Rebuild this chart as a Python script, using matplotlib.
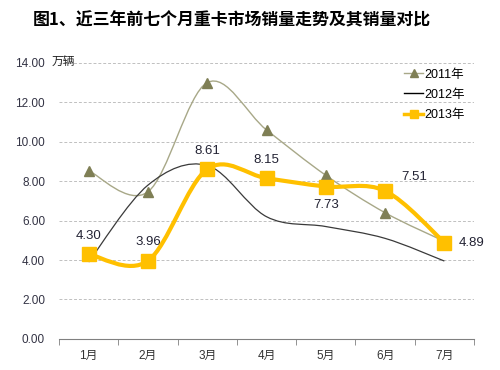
import numpy as np
import matplotlib
matplotlib.use("Agg")
import matplotlib.pyplot as plt
from matplotlib.path import Path
from matplotlib.patches import PathPatch
from matplotlib.lines import Line2D

plt.rcParams['font.family'] = ['Liberation Sans', 'Noto Sans CJK SC']

# données (万辆)
months = ['1月', '2月', '3月', '4月', '5月', '6月', '7月']
sales_2011 = [8.53, 7.46, 13.0, 10.6, 8.3, 6.4, 4.95]
sales_2012 = [3.9, 7.8, 8.8, 6.2, 5.7, 5.1, 3.95]
sales_2013 = [4.30, 3.96, 8.61, 8.15, 7.73, 7.51, 4.89]
labels_2013 = ['4.30', '3.96', '8.61', '8.15', '7.73', '7.51', '4.89']
yticks = [0, 2, 4, 6, 8, 10, 12, 14]

c2011_line = '#a8a888'
c2011_mark = '#7f7f55'
c2012 = '#3a3a3a'
c2013 = '#ffc000'


def smooth_path(xs, ys):
    # courbe lissée façon Excel : Bézier cubique passant par les points
    pts = np.column_stack([xs, ys]).astype(float)
    n = len(pts)
    verts = [pts[0]]
    codes = [Path.MOVETO]
    for i in range(n - 1):
        p0 = pts[max(i - 1, 0)]
        p1 = pts[i]
        p2 = pts[i + 1]
        p3 = pts[min(i + 2, n - 1)]
        verts += [p1 + (p2 - p0) / 6, p2 - (p3 - p1) / 6, p2]
        codes += [Path.CURVE4] * 3
    return Path(verts, codes)


fig = plt.figure(figsize=(5, 3.7), dpi=100)
ax = fig.add_axes([0.118, 0.084, 0.83, 0.746])
x = np.arange(len(months))

ax.set_xlim(-0.5, 6.5)
ax.set_ylim(0, 14)
ax.set_yticks(yticks)
ax.set_yticklabels(['%.2f' % v for v in yticks])
for v in yticks[1:]:
    ax.axhline(v, color='#c0c0c0', lw=0.7, ls=(0, (3, 2)), zorder=0)

# 2011
ax.add_patch(PathPatch(smooth_path(x, sales_2011), fc='none', ec=c2011_line, lw=1.0, zorder=2))
ax.plot(x, sales_2011, ls='none', marker='^', ms=7.5, color=c2011_mark, zorder=3)
# 2012
ax.add_patch(PathPatch(smooth_path(x, sales_2012), fc='none', ec=c2012, lw=0.9, zorder=2))
# 2013
ax.add_patch(PathPatch(smooth_path(x, sales_2013), fc='none', ec=c2013, lw=3.0, zorder=4))
ax.plot(x, sales_2013, ls='none', marker='s', ms=10, color=c2013, zorder=5)

# étiquettes 2013
offsets = [(0, 9, 'center', 'bottom'), (0, 9, 'center', 'bottom'), (0, 9, 'center', 'bottom'),
           (0, 9, 'center', 'bottom'), (0, -9, 'center', 'top'), (12, 6, 'left', 'bottom'),
           (10, 0, 'left', 'center')]
for xi, yi, lab, (dx, dy, ha, va) in zip(x, sales_2013, labels_2013, offsets):
    ax.annotate(lab, (xi, yi), xytext=(dx, dy), textcoords='offset points',
                ha=ha, va=va, fontsize=9.5, color='#222233')

ax.set_xticks(x)
ax.set_xticklabels(months, fontsize=8.5, color='#333333')
ax.set_xticks(np.arange(-0.5, 7, 1), minor=True)
ax.tick_params(axis='x', which='major', length=0, pad=8)
ax.tick_params(axis='x', which='minor', length=4, color='#808080', direction='out')
ax.tick_params(axis='y', length=0, labelsize=8.5, labelcolor='#333344', pad=10)
for s in ['top', 'right', 'left']:
    ax.spines[s].set_visible(False)
ax.spines['bottom'].set_color('#808080')

fig.text(0.104, 0.832, '万辆', fontsize=8.5, ha='left', va='center', color='#222222')

handles = [Line2D([], [], color=c2011_line, marker='^', ms=6, mfc=c2011_mark, mec=c2011_mark, lw=1),
           Line2D([], [], color='black', lw=1),
           Line2D([], [], color=c2013, marker='s', ms=6, lw=2.5)]
ax.legend(handles, ['2011年', '2012年', '2013年'], loc='upper right', bbox_to_anchor=(1.005, 1.02),
          frameon=False, fontsize=9, handlelength=1.5, handletextpad=0.1, labelspacing=0.65)

fig.text(0.066, 0.945, '图1、近三年前七个月重卡市场销量走势及其销量对比', fontsize=12.2,
         fontweight='bold', family=['Noto Sans CJK SC'], ha='left', va='center')

fig.savefig('out.png', dpi=100)
